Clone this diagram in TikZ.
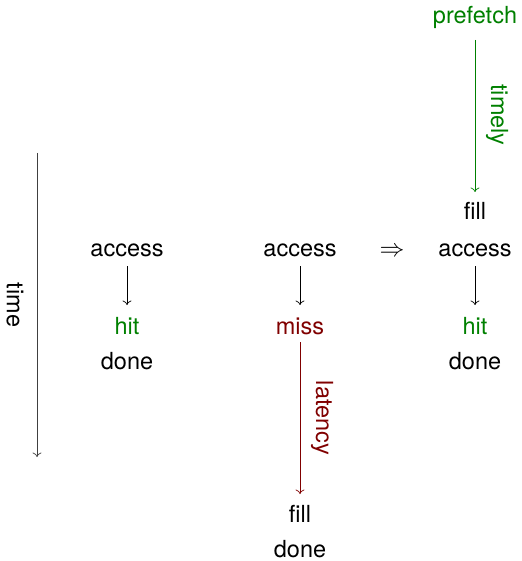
\documentclass[tikz,border=0pt]{standalone}
\usepackage{fontspec}
\setmainfont{TeX Gyre Heros}
\usetikzlibrary{arrows.meta}
\begin{document}
\begin{tikzpicture}[x=1pt,y=-1pt,
  lbl/.style={font=\fontsize{23.5}{28}\selectfont, inner sep=0pt, anchor=base},
  rlbl/.style={font=\fontsize{23.5}{28}\selectfont, inner sep=0pt, rotate=-90, anchor=center},
  arr/.style={-{To[length=4.5pt,width=9pt]}, line width=0.7pt},
  hitc/.style={text=green!50!black},
  missc/.style={text=red!50!black}]
\useasboundingbox (0,0) rectangle (521,561);
% time axis
\coordinate (t0) at (37,153);
\coordinate (t1) at (37,457);
\draw[arr, black!75] (t0) -- (t1);
\node[rlbl] (time) at (15,305) {time};
% column 1
\node[lbl] (acc1) at (127,256) {access};
\node[lbl, hitc] (hit1) at (127,334) {hit};
\node[lbl] (done1) at (127,369) {done};
\draw[arr] (127,266) coordinate (a1s) -- (127,305) coordinate (a1e);
% column 2
\node[lbl] (acc2) at (300,256) {access};
\node[lbl, missc] (miss2) at (300,334) {miss};
\draw[arr] (300,266) coordinate (a2s) -- (300,305) coordinate (a2e);
\draw[arr, red!50!black] (300,342) coordinate (l0) -- (300,494) coordinate (l1);
\node[rlbl, missc] (lat) at (322,418) {latency};
\node[lbl] (fill2) at (300,522) {fill};
\node[lbl] (done2) at (300,557) {done};
% implies
\node[lbl] (impl) at (392,256) {$\Rightarrow$};
% column 3
\node[lbl, hitc] (pf) at (475,24) {prefetch};
\draw[arr, green!50!black] (475,40) coordinate (p0) -- (475,192) coordinate (p1);
\node[rlbl, hitc] (timely) at (497,115) {timely};
\node[lbl] (fill3) at (475,219) {fill};
\node[lbl] (acc3) at (475,256) {access};
\draw[arr] (475,266) coordinate (a3s) -- (475,305) coordinate (a3e);
\node[lbl, hitc] (hit3) at (475,334) {hit};
\node[lbl] (done3) at (475,369) {done};
\end{tikzpicture}
\end{document}
